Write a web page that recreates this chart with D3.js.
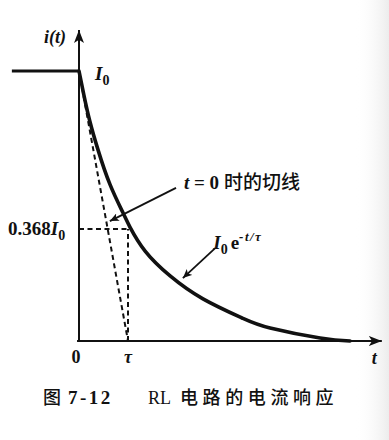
<!DOCTYPE html>
<html>
<head>
<meta charset="utf-8">
<script src="https://cdn.jsdelivr.net/npm/d3@7"></script>
<style>
  html, body { margin: 0; padding: 0; background: #fff; }
  svg { display: block; }
  .serif { font-family: "Liberation Serif", "DejaVu Serif", serif; }
  .cjk { font-family: "Liberation Serif", "Noto Sans CJK SC", serif; }
</style>
</head>
<body>
<div id="chart"></div>
<script>
// Current decay curve (t in units of tau, i in units of I0)
const curveT = [0, 0.10, 0.22, 0.39, 0.63, 0.90, 1.04, 1.35, 1.86, 2.53, 3.33, 3.90, 4.92, 5.53];
const curveI = [1, 0.911, 0.815, 0.707, 0.581, 0.474, 0.422, 0.333, 0.241, 0.156, 0.085, 0.048, 0.011, 0];

// Constant current before the switch
const stepT = [-1.37, 0];
const stepI = [1, 1];

// Tangent at t = 0 (dashed)
const tangentT = [0, 1];
const tangentI = [1, 0];

// Time-constant marker level (as drawn) and tick labels
const tauT = 1;
const levelI = 0.415;
const xTickLabels = ["0", "τ"];
const xTickValues = [0, tauT];

// Axis extents
const xAxisStart = -0.04;
const xAxisEnd = 6.18;
const yAxisTop = 1.152;

// Annotation arrows [tail, tip] in data units
const tangentArrow = [[1.98, 0.567], [0.63, 0.444]];
const formulaArrow = [[2.78, 0.344], [2.12, 0.233]];

const width = 389;
const height = 440;

const svg = d3
  .select("#chart")
  .append("svg")
  .attr("width", width)
  .attr("height", height);

// faint scan shading on the right edge
const defs = svg.append("defs");
const grad = defs
  .append("linearGradient")
  .attr("id", "edge")
  .attr("x1", 0)
  .attr("x2", 1);
grad.append("stop").attr("offset", 0).attr("stop-color", "#fff").attr("stop-opacity", 0);
grad.append("stop").attr("offset", 1).attr("stop-color", "#ececec").attr("stop-opacity", 1);

svg.append("rect").attr("x", 355).attr("y", 0).attr("width", 34).attr("height", height).attr("fill", "url(#edge)");

// arrow markers
function addMarker(id, len, half) {
  defs
    .append("marker")
    .attr("id", id)
    .attr("viewBox", `0 ${-half} ${len} ${half * 2}`)
    .attr("refX", len)
    .attr("refY", 0)
    .attr("markerWidth", len)
    .attr("markerHeight", half * 2)
    .attr("markerUnits", "userSpaceOnUse")
    .attr("orient", "auto")
    .append("path")
    .attr("d", `M0,${-half}L${len},0L0,${half}L${len * 0.25},0Z`)
    .attr("fill", "#111");
}
addMarker("axisArrow", 13, 5);
addMarker("noteArrow", 9, 4);

// scales
const x = d3.scaleLinear().domain([0, 1]).range([79, 128]);
const y = d3.scaleLinear().domain([0, 1]).range([341, 71]);

const ink = "#111";

// axes
svg
  .append("line")
  .attr("x1", x(0))
  .attr("x2", x(0))
  .attr("y1", y(0) + 1)
  .attr("y2", y(yAxisTop))
  .attr("stroke", ink)
  .attr("stroke-width", 2)
  .attr("marker-end", "url(#axisArrow)");

svg
  .append("line")
  .attr("x1", x(xAxisStart))
  .attr("x2", x(xAxisEnd))
  .attr("y1", y(0))
  .attr("y2", y(0))
  .attr("stroke", ink)
  .attr("stroke-width", 2)
  .attr("marker-end", "url(#axisArrow)");

const line = d3
  .line()
  .x((d) => x(d[0]))
  .y((d) => y(d[1]));

// dashed helpers: tangent, tau vertical, level horizontal
const dashed = [
  d3.zip(tangentT, tangentI),
  [[tauT, 0], [tauT, levelI]],
  [[0, levelI], [tauT, levelI]],
];
svg
  .selectAll(".helper")
  .data(dashed)
  .enter()
  .append("path")
  .attr("class", "helper")
  .attr("d", line)
  .attr("fill", "none")
  .attr("stroke", ink)
  .attr("stroke-width", 2)
  .attr("stroke-dasharray", "5,3.5");

// constant current before t = 0
svg
  .append("path")
  .datum(d3.zip(stepT, stepI))
  .attr("d", line)
  .attr("fill", "none")
  .attr("stroke", ink)
  .attr("stroke-width", 3);

// decay curve
svg
  .append("path")
  .datum(d3.zip(curveT, curveI))
  .attr("d", line.curve(d3.curveNatural))
  .attr("fill", "none")
  .attr("stroke", ink)
  .attr("stroke-width", 3.6)
  .attr("stroke-linecap", "round");

// annotation arrows
[tangentArrow, formulaArrow].forEach((a) => {
  svg
    .append("line")
    .attr("x1", x(a[0][0]))
    .attr("y1", y(a[0][1]))
    .attr("x2", x(a[1][0]))
    .attr("y2", y(a[1][1]))
    .attr("stroke", ink)
    .attr("stroke-width", 1.8)
    .attr("marker-end", "url(#noteArrow)");
});

// tick labels under the time axis
svg
  .selectAll(".xtick")
  .data(xTickLabels)
  .enter()
  .append("text")
  .attr("class", "xtick serif")
  .attr("x", (d, i) => x(xTickValues[i]) - (i === 0 ? 3 : 0))
  .attr("y", y(0) + 22)
  .attr("text-anchor", "middle")
  .attr("font-size", 18)
  .attr("font-weight", "bold")
  .attr("font-style", (d, i) => (i === 1 ? "italic" : "normal"))
  .attr("fill", ink)
  .text((d) => d);

// axis names
svg
  .append("text")
  .attr("class", "serif")
  .attr("x", x(xAxisEnd) - 10)
  .attr("y", y(0) + 23)
  .attr("font-size", 18)
  .attr("font-weight", "bold")
  .attr("font-style", "italic")
  .attr("fill", ink)
  .text("t");

svg
  .append("text")
  .attr("class", "serif")
  .attr("x", x(0) - 35)
  .attr("y", y(yAxisTop) + 13)
  .attr("font-size", 18)
  .attr("font-weight", "bold")
  .attr("font-style", "italic")
  .attr("fill", ink)
  .text("i(t)");

// I0 at the corner
const i0 = svg
  .append("text")
  .attr("class", "serif")
  .attr("x", x(0) + 16)
  .attr("y", y(1) + 9)
  .attr("font-size", 19)
  .attr("font-weight", "bold")
  .attr("fill", ink);
i0.append("tspan").attr("font-style", "italic").text("I");
i0.append("tspan").attr("font-size", 14).attr("dy", 5).text("0");

// 0.368 I0 level label
const lvl = svg
  .append("text")
  .attr("class", "serif")
  .attr("x", 8)
  .attr("y", y(levelI) + 6)
  .attr("font-size", 19)
  .attr("font-weight", "bold")
  .attr("fill", ink);
lvl.append("tspan").text("0.368");
lvl.append("tspan").attr("font-style", "italic").text("I");
lvl.append("tspan").attr("font-size", 14).attr("dy", 5).text("0");

// tangent note
const tn = svg
  .append("text")
  .attr("class", "cjk")
  .attr("x", x(tangentArrow[0][0]) + 8)
  .attr("y", y(tangentArrow[0][1]) + 1)
  .attr("font-size", 19)
  .attr("font-weight", "bold")
  .attr("fill", ink);
tn.append("tspan").attr("font-style", "italic").text("t");
tn.append("tspan").text(" = 0 ");
tn.append("tspan").attr("font-family", "Noto Sans CJK SC").attr("font-weight", 500).text("时的切线");

// formula note
const fn = svg
  .append("text")
  .attr("class", "serif")
  .attr("x", x(formulaArrow[0][0]) - 2)
  .attr("y", y(formulaArrow[0][1]) + 1)
  .attr("font-size", 19)
  .attr("font-weight", "bold")
  .attr("fill", ink);
fn.append("tspan").attr("font-style", "italic").text("I");
fn.append("tspan").attr("font-size", 14).attr("dy", 5).text("0");
fn.append("tspan").attr("dy", -5).attr("dx", 3).text("e");
fn.append("tspan").attr("font-size", 13).attr("font-style", "italic").attr("letter-spacing", 1.5).attr("dy", -8).text("-t/τ");

// caption
const cap = svg
  .append("g")
  .attr("fill", ink)
  .attr("font-size", 18);
cap
  .append("text")
  .attr("x", 43)
  .attr("y", 404)
  .attr("font-family", "Noto Sans CJK SC")
  .attr("font-weight", 500)
  .text("图");
cap
  .append("text")
  .attr("class", "serif")
  .attr("x", 68)
  .attr("y", 404)
  .attr("font-weight", "bold")
  .attr("font-size", 19)
  .attr("letter-spacing", 2.5)
  .text("7-12");
cap
  .append("text")
  .attr("class", "serif")
  .attr("x", 148)
  .attr("y", 404)
  .attr("font-size", 18)
  .text("RL");
cap
  .append("text")
  .attr("x", 180)
  .attr("y", 404)
  .attr("font-family", "Noto Sans CJK SC")
  .attr("font-weight", 500)
  .attr("letter-spacing", 4.6)
  .text("电路的电流响应");
</script>
</body>
</html>
